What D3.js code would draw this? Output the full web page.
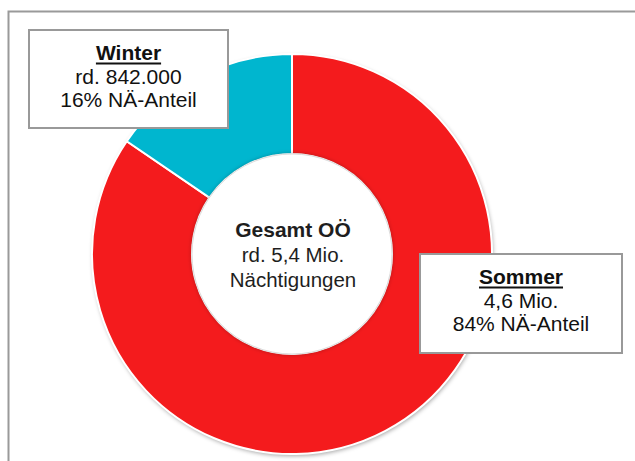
<!DOCTYPE html>
<html>
<head>
<meta charset="utf-8">
<script src="https://cdn.jsdelivr.net/npm/d3@7"></script>
<style>
  body { margin: 0; background: #fff; }
  svg { display: block; font-family: "Liberation Sans", Arial, sans-serif; }
</style>
</head>
<body>
<div id="chart"></div>
<script>
// Nächtigungen je Saison
const seasons = ["Sommer", "Winter"];
const nights = [4600000, 842000];
const seasonColors = ["#f41b1d", "#00b6cf"];

// Beschriftungen
const labelLines = {
  Sommer: ["Sommer", "4,6 Mio.", "84% NÄ-Anteil"],
  Winter: ["Winter", "rd. 842.000", "16% NÄ-Anteil"]
};
const centerLines = ["Gesamt OÖ", "rd. 5,4 Mio.", "Nächtigungen"];

const W = 635, H = 461;
const cx = 292, cy = 254,
  outerR = 200, innerR = 100;

const svg = d3.select("#chart").append("svg")
  .attr("width", W)
  .attr("height", H);

// drop shadow for the ring
const defs = svg.append("defs");
const shadow = defs.append("filter")
  .attr("id", "shadow")
  .attr("x", "-20%").attr("y", "-20%")
  .attr("width", "140%").attr("height", "140%");
shadow.append("feGaussianBlur").attr("in", "SourceAlpha").attr("stdDeviation", 2);
shadow.append("feOffset").attr("dx", 1).attr("dy", 2).attr("result", "off");
shadow.append("feFlood").attr("flood-color", "#000").attr("flood-opacity", 0.35);
shadow.append("feComposite").attr("in2", "off").attr("operator", "in");
const sm = shadow.append("feMerge");
sm.append("feMergeNode");
sm.append("feMergeNode").attr("in", "SourceGraphic");

const inner = defs.append("filter")
  .attr("id", "innerShadow")
  .attr("x", "-20%").attr("y", "-20%")
  .attr("width", "140%").attr("height", "140%");
inner.append("feGaussianBlur").attr("in", "SourceAlpha").attr("stdDeviation", 2).attr("result", "b");
inner.append("feFlood").attr("flood-color", "#000").attr("flood-opacity", 0.3);
inner.append("feComposite").attr("in2", "b").attr("operator", "in");
const im = inner.append("feMerge");
im.append("feMergeNode");
im.append("feMergeNode").attr("in", "SourceGraphic");

// frame
svg.append("path")
  .attr("d", `M8.5,${H} V11.5 H${W}`)
  .attr("fill", "none")
  .attr("stroke", "#9a9a9a")
  .attr("stroke-width", 2);

const pie = d3.pie().sort(null).value(d => d.v);
const arcs = pie(seasons.map((s, i) => ({ name: s, v: nights[i] })));
const arc = d3.arc().innerRadius(innerR).outerRadius(outerR);

const g = svg.append("g")
  .attr("transform", `translate(${cx},${cy})`);

g.append("circle")
  .attr("r", outerR)
  .attr("fill", "#fff")
  .style("filter", "url(#shadow)");

g.selectAll("path.slice")
  .data(arcs)
  .enter().append("path")
  .attr("class", "slice")
  .attr("d", arc)
  .attr("fill", (d, i) => seasonColors[i])
  .attr("stroke", "#fff")
  .attr("stroke-width", 2);

g.append("circle")
  .attr("r", innerR)
  .attr("fill", "#fff")
  .attr("stroke", "#ddd")
  .attr("stroke-width", 1)
  .style("filter", "url(#innerShadow)");

// center text
g.selectAll("text.center")
  .data(centerLines)
  .enter().append("text")
  .attr("class", "center")
  .attr("x", 1)
  .attr("y", (d, i) => -17 + i * 25)
  .attr("text-anchor", "middle")
  .attr("font-size", (d, i) => i === 0 ? "21px" : "20.5px")
  .attr("font-weight", (d, i) => i === 0 ? "bold" : "normal")
  .attr("fill", "#1e1e1e")
  .text(d => d);

// label boxes
const boxes = [
  { name: "Winter", x: 29, y: 30, w: 199, h: 98 },
  { name: "Sommer", x: 420, y: 254, w: 202, h: 99 }
];

const box = svg.selectAll("g.box")
  .data(boxes)
  .enter().append("g")
  .attr("class", "box")
  .attr("transform", d => `translate(${d.x},${d.y})`);

box.append("rect")
  .attr("width", d => d.w)
  .attr("height", d => d.h)
  .attr("fill", "#fff")
  .attr("stroke", "#999")
  .attr("stroke-width", 2);

box.each(function(d) {
  const lines = labelLines[d.name];
  const t = d3.select(this);
  lines.forEach((line, i) => {
    const txt = t.append("text")
      .attr("x", d.w / 2)
      .attr("y", 30 + i * 23.5)
      .attr("text-anchor", "middle")
      .attr("font-size", "21px")
      .attr("font-weight", i === 0 ? "bold" : "normal")
      .attr("fill", "#111")
      .text(line);
    if (i === 0) {
      const len = txt.node().getComputedTextLength();
      t.append("line")
        .attr("x1", d.w / 2 - len / 2)
        .attr("x2", d.w / 2 + len / 2)
        .attr("y1", 33.5)
        .attr("y2", 33.5)
        .attr("stroke", "#111")
        .attr("stroke-width", 2);
    }
  });
});
</script>
</body>
</html>
